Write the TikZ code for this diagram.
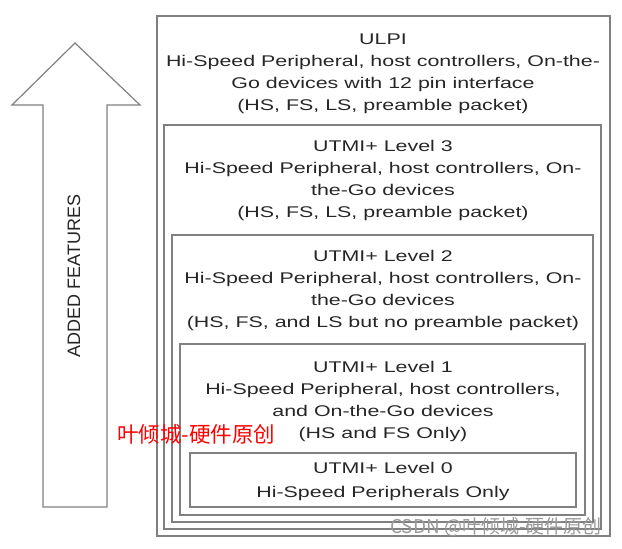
\documentclass[tikz,border=0pt]{standalone}
\usepackage{fontspec}
\setmainfont[FakeStretch=1.38]{Liberation Sans}
\newfontfamily\plainsans{Liberation Sans}
\newfontfamily\cjk{Noto Sans CJK SC}
\usetikzlibrary{positioning}

\begin{document}
\begin{tikzpicture}[x=1pt, y=-1pt,
    frame/.style={draw=black!50, line width=1.2pt},
    layer/.style={anchor=north, align=center, inner sep=0pt, text=black!85,
        font=\fontsize{15.5}{22}\selectfont}]
	\useasboundingbox (0,0) rectangle (622,549);
	% big arrow on the left
	\draw[frame] (75,43) -- (140,105) -- (107,105) -- (107,507) -- (43,507)
	    -- (43,105) -- (12,105) -- cycle;
	\node[rotate=90, text=black!85, font=\plainsans\fontsize{18}{20}\selectfont] (features) at (74,276) {ADDED FEATURES};
	% nested layers
	\draw[frame] (157,16) rectangle (610,536);
	\draw[frame] (164,125) rectangle (601,529);
	\draw[frame] (172,235) rectangle (593,522);
	\draw[frame] (180,344) rectangle (585,515);
	\draw[frame] (190,453) rectangle (576,507);
	\node[layer] (ulpi) at (383,33.5) {ULPI\\Hi-Speed Peripheral, host controllers, On-the-\\Go devices with 12 pin interface\\(HS, FS, LS, preamble packet)};
	\node[layer] (lvl3) at (383,140.5) {UTMI+ Level 3\\Hi-Speed Peripheral, host controllers, On-\\the-Go devices\\(HS, FS, LS, preamble packet)};
	\node[layer] (lvl2) at (383,250.5) {UTMI+ Level 2\\Hi-Speed Peripheral, host controllers, On-\\the-Go devices\\(HS, FS, and LS but no preamble packet)};
	\node[layer] (lvl1) at (383,361.5) {UTMI+ Level 1\\Hi-Speed Peripheral, host controllers,\\and On-the-Go devices\\(HS and FS Only)};
	\node[layer, font=\fontsize{15.5}{24}\selectfont] (lvl0) at (383,462.5) {UTMI+ Level 0\\Hi-Speed Peripherals Only};
	% marks
	\node[anchor=west, inner sep=0pt, text=red, font=\cjk\fontsize{21.5}{23}\selectfont] (mark) at (117,434) {叶倾城-硬件原创};
	\node[anchor=west, inner sep=0pt, text=black!40, font=\cjk\fontsize{19}{21}\selectfont] (csdn) at (390,527) {CSDN @叶倾城-硬件原创};
\end{tikzpicture}
\end{document}
